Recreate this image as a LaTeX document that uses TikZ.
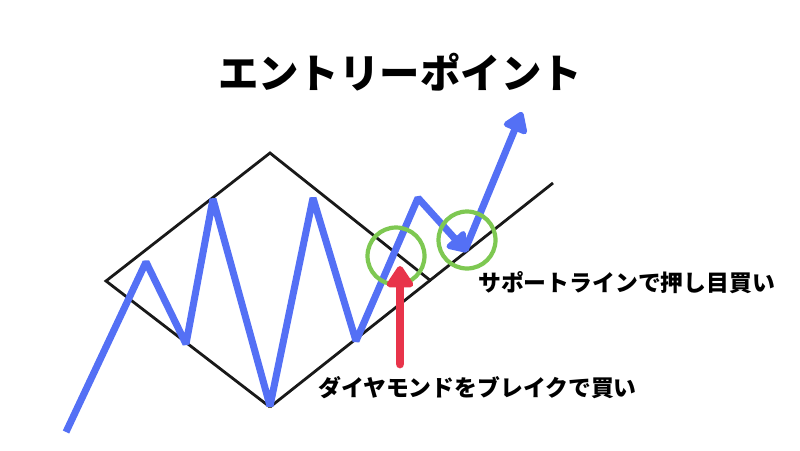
\documentclass[tikz,border=0pt]{standalone}
\usepackage{fontspec}
\usepackage{tikz}
\usetikzlibrary{arrows.meta}
\newfontfamily\jpfont{Noto Sans CJK JP}
\definecolor{chartblue}{RGB}{84,112,245}
\definecolor{ringgreen}{RGB}{126,200,82}
\definecolor{buyred}{RGB}{232,52,74}

\begin{document}
\begin{tikzpicture}[x=0.02cm,y=-0.02cm,
    edge/.style={line width=1.6pt,draw=black!90},
    price/.style={line width=4pt,draw=chartblue,line join=bevel},
    ring/.style={circle,minimum size=1.14cm,line width=2.4pt,draw=ringgreen},
    punkt/.style={anchor=west,font=\jpfont\bfseries\fontsize{13}{15}\selectfont},]

  \useasboundingbox (0,0) rectangle (800,450);

  % diamond and support line
  \coordinate (l) at (106,281);
  \coordinate (t) at (270,153);
  \coordinate (b) at (270,407);
  \coordinate (r) at (431,281);
  \coordinate (s) at (553,183);
  \draw [edge] (b) -- (l) -- (t) -- (r);
  \draw [edge] (b) -- (s);

  % price
  \coordinate (p0) at (66,432);
  \coordinate (p1) at (146,262);
  \coordinate (p2) at (186,344);
  \coordinate (p3) at (213,199);
  \coordinate (p4) at (270,406);
  \coordinate (p5) at (313,198);
  \coordinate (p6) at (356,341);
  \coordinate (p7) at (418,198);
  \coordinate (p8) at (467,252);
  \coordinate (p9) at (522,112);
  \draw [price,-{Triangle[round,length=0.42cm,width=0.55cm]}]
    (p0) -- (p1) -- (p2) -- (p3) -- (p4) -- (p5) -- (p6) -- (p7) -- (p8);
  \draw [price,-{Triangle[round,length=0.45cm,width=0.56cm]}] (465,250) -- (p9);

  % entry rings
  \node [ring] (c1) at (396,256) {};
  \node [ring] (c2) at (467,240) {};

  % breakout arrow
  \coordinate (a0) at (400,364);
  \coordinate (a1) at (400,266);
  \draw [line width=5pt,draw=buyred,line cap=round,
    -{Triangle[round,length=0.48cm,width=0.6cm]}] (a0) -- (a1);

  % texts
  \node [font=\jpfont\bfseries\fontsize{23}{27}\selectfont] (h) at (400,72) {エントリーポイント};
  \node [punkt] (n1) at (472,283) {サポートラインで押し目買い};
  \node [punkt] (n2) at (312,388) {ダイヤモンドをブレイクで買い};

\end{tikzpicture}
\end{document}
